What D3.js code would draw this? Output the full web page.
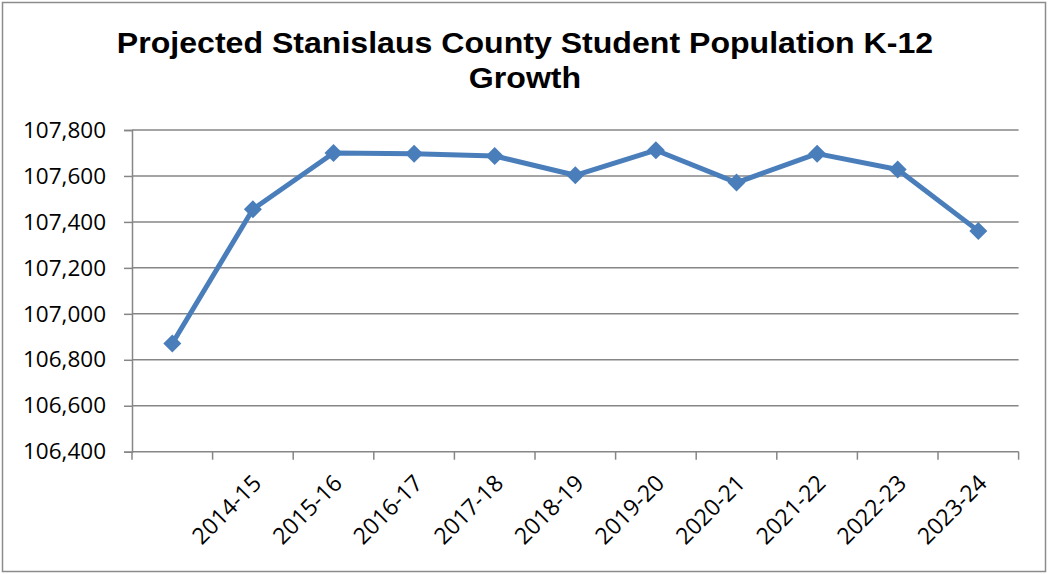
<!DOCTYPE html>
<html>
<head>
<meta charset="utf-8">
<script src="https://cdn.jsdelivr.net/npm/d3@7"></script>
<style>
  html, body { margin: 0; padding: 0; background: #fff; }
  svg { display: block; }
</style>
</head>
<body>
<svg id="chart" width="1048" height="574"></svg>
<script>
// School years (the first point carries no axis label)
const categories = ["", "2014-15", "2015-16", "2016-17", "2017-18", "2018-19",
                    "2019-20", "2020-21", "2021-22", "2022-23", "2023-24"];
// Projected K-12 enrollment
const students = [106871, 107455, 107700, 107697, 107687, 107603,
                  107712, 107571, 107697, 107628, 107361];
// Value axis ticks
const yTicks = [106400, 106600, 106800, 107000, 107200, 107400, 107600, 107800];
const titleLines = ["Projected Stanislaus County Student Population K-12", "Growth"];

const svg = d3.select("#chart");
const W = 1048, H = 574;
const plot = { left: 132, right: 1018.6, top: 130, bottom: 451.7 };
const gridColor = "#868686";
const lineColor = "#4a7ebb";
const labelFont = "'Open Sans', 'Liberation Sans', sans-serif";

// outer frame
svg.append("rect")
  .attr("x", 2.5).attr("y", 2.5)
  .attr("width", W - 5).attr("height", H - 5)
  .attr("fill", "#fff").attr("stroke", "#8c8c8c").attr("stroke-width", 1.5);

// title, slightly widened
svg.append("g").selectAll("text").data(titleLines).join("text")
  .attr("transform", (d, i) => `translate(525,${53 + i * 35}) scale(1.07,1)`)
  .attr("text-anchor", "middle")
  .style("font-family", "'Liberation Sans', Arial, sans-serif")
  .style("font-weight", "bold")
  .style("font-size", "30px")
  .attr("fill", "#000")
  .text(d => d);

const x = d3.scaleBand()
  .domain(d3.range(categories.length))
  .range([plot.left, plot.right])
  .paddingInner(0).paddingOuter(0);

const y = d3.scaleLinear()
  .domain([d3.min(yTicks), d3.max(yTicks)])
  .range([plot.bottom, plot.top]);

// horizontal gridlines
svg.append("g").selectAll("line").data(yTicks.slice(1)).join("line")
  .attr("x1", plot.left).attr("x2", plot.right)
  .attr("y1", d => y(d)).attr("y2", d => y(d))
  .attr("stroke", gridColor).attr("stroke-width", 1.5);

// y axis
const yAxis = svg.append("g")
  .attr("transform", `translate(${plot.left},0)`)
  .call(d3.axisLeft(y).tickValues(yTicks).tickFormat(d3.format(",")).tickSize(8).tickPadding(18));
yAxis.select(".domain").attr("stroke", gridColor).attr("stroke-width", 1.5);
yAxis.selectAll(".tick line").attr("stroke", gridColor).attr("stroke-width", 1.5);
yAxis.selectAll(".tick text")
  .style("font-family", labelFont).style("font-size", "22.5px").attr("fill", "#000");

// x axis: baseline, boundary ticks, rotated labels
const xg = svg.append("g").attr("transform", `translate(0,${plot.bottom})`);
xg.append("line")
  .attr("x1", plot.left).attr("x2", plot.right)
  .attr("stroke", gridColor).attr("stroke-width", 1.5);
const bounds = [plot.left].concat(d3.range(categories.length).map(i => x(i) + x.bandwidth()));
xg.selectAll("line.tk").data(bounds).join("line")
  .attr("class", "tk")
  .attr("x1", d => d).attr("x2", d => d)
  .attr("y1", 0).attr("y2", 8)
  .attr("stroke", gridColor).attr("stroke-width", 1.5);
xg.selectAll("text").data(categories).join("text")
  .attr("transform", (d, i) => `translate(${x(i) + x.bandwidth() / 2 + 10},${33}) rotate(-45)`)
  .attr("text-anchor", "end")
  .style("font-family", labelFont).style("font-size", "23px").attr("fill", "#000")
  .text(d => d);

// series line
const cx = i => x(i) + x.bandwidth() / 2;
svg.append("path")
  .datum(students)
  .attr("d", d3.line().x((d, i) => cx(i)).y(d => y(d)))
  .attr("fill", "none").attr("stroke", lineColor)
  .attr("stroke-width", 5).attr("stroke-linejoin", "round");

// diamond markers
svg.append("g").selectAll("path").data(students).join("path")
  .attr("transform", (d, i) => `translate(${cx(i)},${y(d)})`)
  .attr("d", "M0,-9L9,0L0,9L-9,0Z")
  .attr("fill", lineColor);
</script>
</body>
</html>
